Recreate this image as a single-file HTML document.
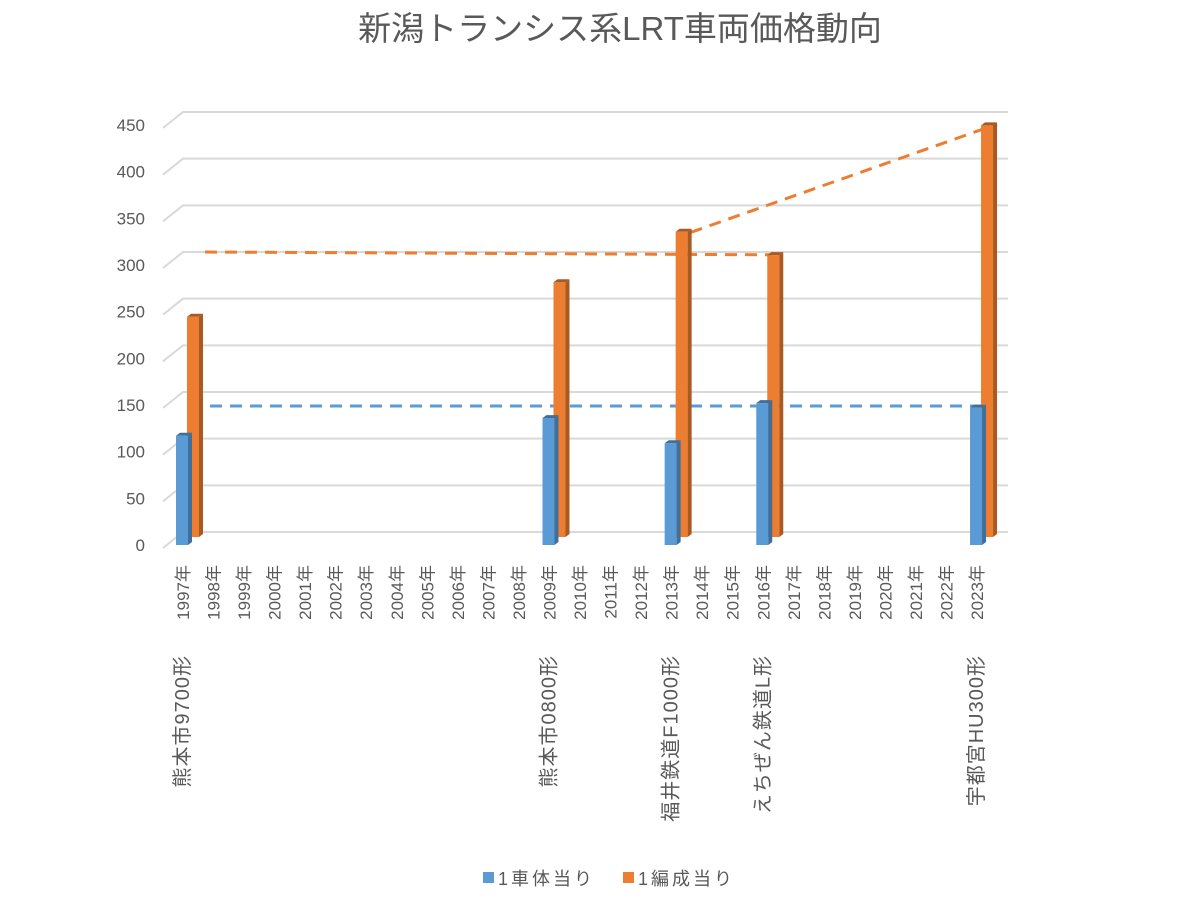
<!DOCTYPE html>
<html><head><meta charset="utf-8"><style>
body{margin:0;background:#fff;}
svg{display:block;font-family:"Liberation Sans","Noto Sans CJK JP",sans-serif;}
</style></head><body>
<svg id="chart" width="1200" height="900">
<text x="620" y="40" text-anchor="middle" font-size="33" fill="#595959">新潟トランシス系LRT車両価格動向</text>
<g id="grid"></g><g id="yaxis"></g><g id="trends"></g><g id="bars"></g><g id="xaxis"></g>
<g>
<rect x="483" y="872" width="11" height="11" fill="#5b9bd5"/>
<text x="498" y="885" font-size="18" letter-spacing="3" fill="#595959">1車体当り</text>
<rect x="623" y="872" width="11" height="11" fill="#ed7d31"/>
<text x="638" y="885" font-size="18" letter-spacing="3" fill="#595959">1編成当り</text>
</g>
</svg>
<script>
const years=[];for(let y=1997;y<=2023;y++)years.push(y+"年");
const models={"1997年":"熊本市9700形","2009年":"熊本市0800形","2013年":"福井鉄道F1000形","2016年":"えちぜん鉄道L形","2023年":"宇都宮HU300形"};
const barYears=["1997年","2009年","2013年","2016年","2023年"];
const perCar=[117,136,109,152,147];
const perSet=[236,273,327,302,441];
const yTicks=[0,50,100,150,200,250,300,350,400,450];
const trendBlue=[["1997年",149],["2023年",149]];
const trendOrangeA=[["1997年",300],["2016年",297]];
const trendOrangeB=[["2013年",321],["2023年",437]];
const NS="http://www.w3.org/2000/svg";
function mk(p,t,a){const e=document.createElementNS(NS,t);for(const k in a)e.setAttribute(k,a[k]);document.getElementById(p).appendChild(e);return e;}
const k=0.9333;
const xc=c=>182+years.indexOf(c)*30.54;
const yFront=v=>545-v*k;
const yBack=v=>532-v*k;
yTicks.forEach(v=>{
 const l=mk("grid","polyline",{points:`163,${yFront(v)+3} 183,${yBack(v)} 1008,${yBack(v)}`,fill:"none",stroke:"#d9d9d9","stroke-width":2});
 
 
 const t=mk("yaxis","text",{x:145,y:yFront(v)+6,"text-anchor":"end","font-size":17,fill:"#595959"});
 t.textContent=v;
 
 
});
function bar(x,top,bot,col,side,name){
 const g=mk("bars","g",{});
 
 
 const w=12,d=4;
 const f=document.createElementNS(NS,"rect");f.setAttribute("x",x);f.setAttribute("y",top);f.setAttribute("width",w);f.setAttribute("height",bot-top);f.setAttribute("fill",col);g.appendChild(f);
 const s=document.createElementNS(NS,"polygon");s.setAttribute("points",`${x+w},${top} ${x+w+d},${top-3} ${x+w+d},${bot-3} ${x+w},${bot}`);s.setAttribute("fill",side);g.appendChild(s);
 const tp=document.createElementNS(NS,"polygon");tp.setAttribute("points",`${x},${top} ${x+d},${top-3} ${x+w+d},${top-3} ${x+w},${top}`);tp.setAttribute("fill",side);g.appendChild(tp);
}
barYears.forEach((c,i)=>{
 bar(xc(c)+5,537-perSet[i]*k,537,"#ed7d31","#a85a22","bar-per-set-"+c);
 bar(xc(c)-6,yFront(perCar[i]),545,"#5b9bd5","#3f6f9a","bar-per-car-"+c);
});
function trend(pts,col,x0,x1,name){
 const l=mk("trends","line",{x1:xc(pts[0][0])+x0,y1:yBack(pts[0][1])+(col=="#5b9bd5"?13:0),x2:xc(pts[1][0])+x1,y2:yBack(pts[1][1])+(col=="#5b9bd5"?13:0),stroke:col,"stroke-width":3,"stroke-dasharray":"12,8"});
 
 
}
trend(trendBlue,"#5b9bd5",8,17,"trendline-per-car");
trend(trendOrangeA,"#ed7d31",23,9,"trendline-per-set-early");
trend(trendOrangeB,"#ed7d31",20,21,"trendline-per-set-late");
years.forEach(c=>{
 const x=xc(c)+7;
 const t=mk("xaxis","text",{x:0,y:0,transform:`translate(${x},565) rotate(-90)`,"text-anchor":"end","font-size":17,fill:"#595959"});
 t.textContent=c;
 
 
 if(models[c]){
  const m=mk("xaxis","text",{x:0,y:0,transform:`translate(${x},655) rotate(-90)`,"text-anchor":"end","font-size":20,"letter-spacing":1,fill:"#595959"});
  m.textContent=models[c];
  
  
 }
});
</script>
</body></html>
